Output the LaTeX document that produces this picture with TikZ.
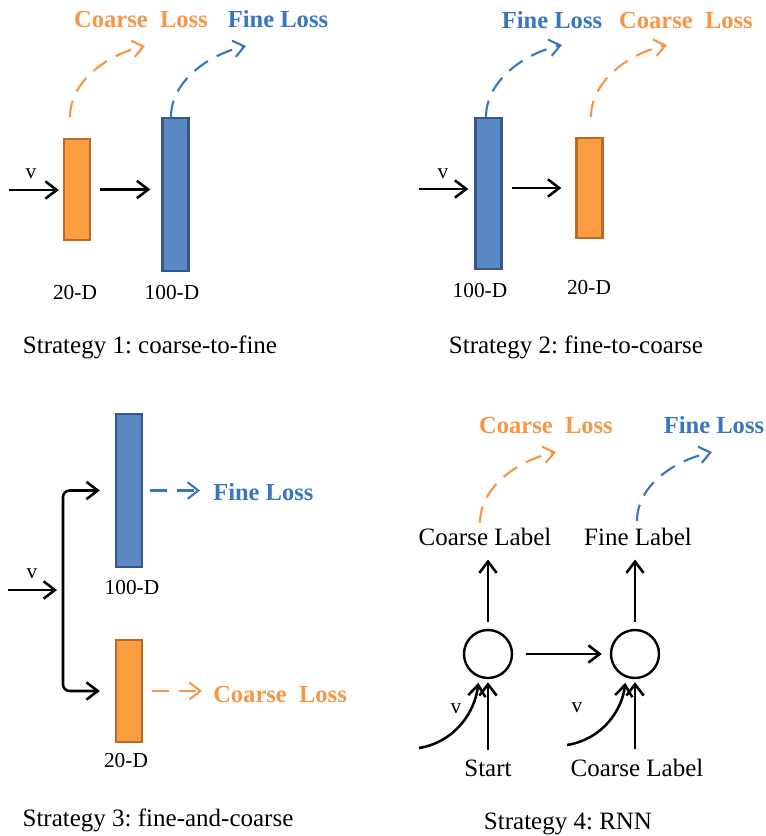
\documentclass[tikz,border=0pt]{standalone}
\usepackage{fontspec}
\setmainfont{Liberation Serif}
\usetikzlibrary{arrows.meta,calc}
\definecolor{orfill}{HTML}{F99D3F}
\definecolor{ordraw}{HTML}{B8692C}
\definecolor{orline}{HTML}{F79646}
\definecolor{blfill}{HTML}{5A88C5}
\definecolor{bldraw}{HTML}{385788}
\definecolor{blline}{HTML}{3A76BE}
\begin{document}
\frenchspacing
\begin{tikzpicture}[x=0.75pt,y=-0.75pt,
  arr/.style={line width=1.9pt,-{Straight Barb[length=8.5pt,width=13pt]}},
  dasharr/.style={line width=1.6pt,dash pattern=on 12.5pt off 7.5pt,-{Straight Barb[length=8pt,width=12.5pt]}},
  obox/.style={draw=ordraw,fill=orfill,line width=1.8pt,minimum width=19.5pt,inner sep=0pt},
  bbox/.style={draw=bldraw,fill=blfill,line width=1.8pt,minimum width=19.5pt,inner sep=0pt},
  lab/.style={font=\fontsize{16}{18}\selectfont,inner sep=0pt,anchor=base},
  capt/.style={font=\fontsize{18.75}{22}\selectfont,inner sep=0pt,anchor=base},
  vlab/.style={font=\fontsize{16}{18}\selectfont,inner sep=0pt,anchor=base},
  word/.style={font=\fontsize{18.75}{22}\selectfont,inner sep=0pt,anchor=base},
  losso/.style={font=\fontsize{18.4}{22}\selectfont\bfseries,text=orline,inner sep=0pt,anchor=base},
  lossb/.style={font=\fontsize{18.4}{22}\selectfont\bfseries,text=blline,inner sep=0pt,anchor=base},
  rnn/.style={circle,draw,line width=1.8pt,minimum size=36pt,inner sep=0pt}
]
\useasboundingbox (0,0) rectangle (766,836);

% ---------- Strategy 1 ----------
\node[obox,minimum height=75.5pt] (o1) at (77,189.5) {};
\node[bbox,minimum height=114.5pt] (b1) at (175.5,194.5) {};
\coordinate (vin1) at (9,190);
\draw[arr,shorten >=3pt] (vin1) -- (vin1 -| o1.west);
\draw[arr,shorten <=6.75pt,shorten >=8.25pt] (o1.east) -- (o1.east -| b1.west);
\node[vlab] (v1) at (31,178) {v};
\node[losso] (cl1) at (141,27) {Coarse~ Loss};
\node[lossb] (fl1) at (278,27) {Fine Loss};
\coordinate (s1c) at (70,117); \coordinate (e1c) at (145,46);
\coordinate (s1f) at (171,117); \coordinate (e1f) at (246,46);
\draw[dasharr,orline] (s1c) .. controls (70,82) and (106,55) .. (e1c);
\draw[dasharr,blline] (s1f) .. controls (171,82) and (207,55) .. (e1f);
\node[lab] (d1a) at (75,299) {20-D};
\node[lab] (d1b) at (172,299) {100-D};
\node[capt] (cap1) at (150,353) {Strategy 1: coarse-to-fine};

% ---------- Strategy 2 ----------
\node[bbox,minimum height=113pt] (b2) at (488.5,193.5) {};
\node[obox,minimum height=74.7pt] (o2) at (589.5,188) {};
\coordinate (vin2) at (419,189);
\draw[arr,shorten >=4.5pt] (vin2) -- (vin2 -| b2.west);
\draw[arr,shorten <=6.75pt,shorten >=10.5pt] (o2.west -| b2.east) -- (o2.west);
\node[vlab] (v2) at (443,178) {v};
\node[lossb] (fl2) at (552,28) {Fine Loss};
\node[losso] (cl2) at (686,28) {Coarse~ Loss};
\coordinate (s2f) at (486,117); \coordinate (e2f) at (562,45);
\coordinate (s2c) at (591,117); \coordinate (e2c) at (667,45);
\draw[dasharr,blline] (s2f) .. controls (486,82) and (522,54) .. (e2f);
\draw[dasharr,orline] (s2c) .. controls (591,82) and (627,54) .. (e2c);
\node[lab] (d2a) at (480,297) {100-D};
\node[lab] (d2b) at (589,294) {20-D};
\node[capt] (cap2) at (576,353) {Strategy 2: fine-to-coarse};

% ---------- Strategy 3 ----------
\node[bbox,minimum height=114.5pt] (b3) at (129,490.5) {};
\node[obox,minimum height=76.2pt] (o3) at (129,691) {};
\coordinate (vin3) at (8,590);
\coordinate (j3) at (63,590);
\draw[arr,shorten >=4.5pt] (vin3) -- (j3);
\draw[arr,rounded corners=5pt,shorten >=11.25pt] (j3) |- (b3.west);
\draw[arr,rounded corners=5pt,shorten >=11.25pt] (j3) |- (o3.west);
\node[vlab] (v3) at (32,578) {v};
\node[lossb,anchor=base west] (fl3) at (213,500) {Fine Loss};
\node[losso,anchor=base west] (cl3) at (213,702) {Coarse~ Loss};
\draw[dasharr,blline,shorten <=5.25pt,shorten >=9.75pt] (b3.east) -- (b3.east -| fl3.west);
\draw[dasharr,orline,shorten <=6.75pt,shorten >=8.25pt] (o3.east) -- (o3.east -| cl3.west);
\node[lab] (d3a) at (132,594) {100-D};
\node[lab] (d3b) at (126,767) {20-D};
\node[capt] (cap3) at (158,826) {Strategy 3: fine-and-coarse};

% ---------- Strategy 4 ----------
\node[rnn] (c1) at (488,654) {};
\node[rnn] (c2) at (635,654) {};
\draw[arr,shorten <=9.75pt,shorten >=6pt] (c1) -- (c2);
\node[word] (cl4) at (485,545) {Coarse Label};
\node[word] (fl4) at (638,545) {Fine Label};
\draw[arr,shorten <=5.25pt,shorten >=10.5pt] (c1.north) -- (c1.north |- cl4.south);
\draw[arr,shorten <=5.25pt,shorten >=10.5pt] (c2.north) -- (c2.north |- fl4.south);
\node[word] (st) at (488,776) {Start};
\node[word] (cl4b) at (637,776) {Coarse Label};
\draw[arr,shorten <=6.75pt,shorten >=2.25pt] (c1.south |- st.north) -- (c1.south);
\draw[arr,shorten <=6.75pt,shorten >=2.25pt] (c2.south |- cl4b.north) -- (c2.south);
\coordinate (va1) at (419,748);
\coordinate (va2) at (567,745);
\draw[arr,shorten >=4pt] (va1) .. controls (455,742) and (475,712) .. (c1.249);
\draw[arr,shorten >=4pt] (va2) .. controls (603,739) and (622,710) .. (c2.249);
\node[vlab] (v4a) at (456,713) {v};
\node[vlab] (v4b) at (577,712) {v};
\node[losso] (cl4l) at (546,433) {Coarse~ Loss};
\node[lossb] (fl4l) at (714,433) {Fine Loss};
\coordinate (s4c) at (480,523); \coordinate (e4c) at (556,452);
\coordinate (s4f) at (637,521); \coordinate (e4f) at (712,452);
\draw[dasharr,orline] (s4c) .. controls (480,488) and (516,461) .. (e4c);
\draw[dasharr,blline] (s4f) .. controls (637,486) and (673,461) .. (e4f);
\node[capt] (cap4) at (568,829) {Strategy 4: RNN};
\end{tikzpicture}
\end{document}
